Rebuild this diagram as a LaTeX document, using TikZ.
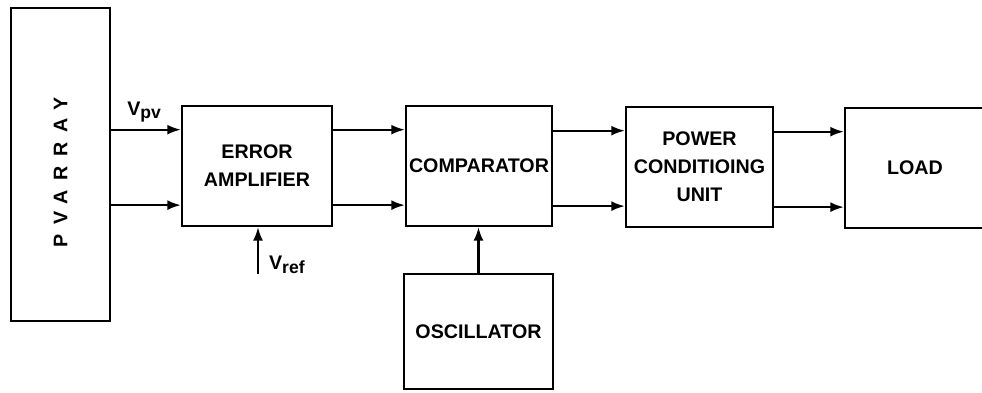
\documentclass[tikz,border=0pt]{standalone}
\usepackage{fontspec}
\setmainfont{Liberation Sans}
\usetikzlibrary{arrows.meta}
\newcommand{\lowsub}[1]{\raisebox{-0.35ex}{\fontsize{12.5}{12.5}\selectfont #1}}
\tikzset{
  blk/.style={draw,line width=1.6pt,align=center,inner sep=0pt,
    font=\bfseries\fontsize{14}{20}\selectfont},
  sig/.style={line width=1.5pt,-{Latex[length=3.4mm,width=2.5mm]}},
  lbl/.style={inner sep=0pt,font=\bfseries\fontsize{14}{16}\selectfont}
}
\begin{document}
\begin{tikzpicture}
\useasboundingbox (0,0) rectangle (24.55,9.8);
\clip (0,0) rectangle (24.55,9.8);
\node[blk,minimum width=2.475cm,minimum height=7.825cm] (pv) at (1.5125,5.6875)
  {\rotatebox{90}{\addfontfeature{LetterSpace=50}PV\hspace{0.35em}ARRAY\hspace*{0.4cm}}};
\node[blk,minimum width=3.75cm,minimum height=3cm] (ea) at (6.425,5.65) {ERROR\\AMPLIFIER};
\node[blk,minimum width=3.65cm,minimum height=3cm] (comp) at (11.975,5.65) {COMPARATOR};
\node[blk,minimum width=3.725cm,minimum height=2.875cm] (osc) at (11.9625,1.5125) {OSCILLATOR};
\node[blk,minimum width=3.675cm,minimum height=3cm] (pcu) at (17.4875,5.625) {POWER\\CONDITIOING\\UNIT};
\node[blk,minimum width=3.5cm,minimum height=3cm] (load) at (22.875,5.6) {LOAD};
\foreach \a/\b in {pv/ea,ea/comp,comp/pcu,pcu/load}{
  \coordinate (\b1) at ([yshift=-0.62cm]\b.north west);
  \coordinate (\b2) at ([yshift=0.55cm]\b.south west);
  \draw[sig] (\a.east |- \b1) -- (\b1);
  \draw[sig] (\a.east |- \b2) -- (\b2);
}
\draw[sig] (osc.north) -- (osc.north |- comp.south);
\coordinate (vref) at (6.45,2.95);
\draw[sig] (vref) -- (vref |- ea.south);
\node[lbl,anchor=west] (vrefl) at (6.72,3.18) {V\lowsub{ref}};
\node[lbl,anchor=west] (vpvl) at (3.175,7.0) {V\lowsub{pv}};
\end{tikzpicture}
\end{document}
